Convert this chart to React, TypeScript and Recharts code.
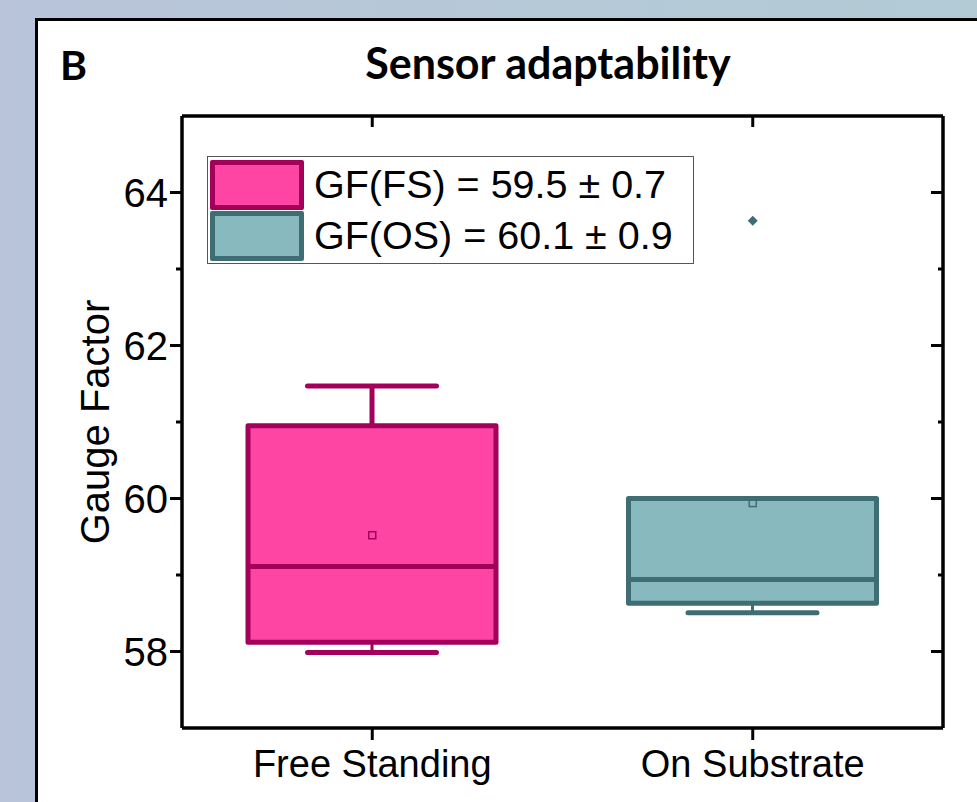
import { Bar, ComposedChart, Legend, Scatter, XAxis, YAxis } from "recharts";

// values
const categories = ["Free Standing", "On Substrate"];
const whiskerLow = [58.0, 58.52];
const q1 = [58.12, 58.63];
const median = [59.11, 58.94];
const q3 = [60.95, 60.0];
const whiskerHigh = [61.47, 60.0];
const means = [59.52, 59.94];
const outliers = [null, 63.63];
const legendLabels = ["GF(FS) = 59.5 ± 0.7", "GF(OS) = 60.1 ± 0.9"];
const majorTicks = [58, 60, 62, 64];
const allTicks = [58, 59, 60, 61, 62, 63, 64];

const fills = ["#ff45a3", "#87b9be"];
const strokes = ["#a3005b", "#3e6e73"];
const FONT = "'Liberation Sans', Arial, sans-serif";
const AXIS = { stroke: "#000", strokeWidth: 3.5 };

const data = categories.map((name, i) => ({
  name,
  range: [whiskerLow[i], whiskerHigh[i]],
  low: whiskerLow[i],
  q1: q1[i],
  median: median[i],
  q3: q3[i],
  high: whiskerHigh[i],
  mean: means[i],
  outlier: outliers[i],
}));

/* box + whiskers, positioned from the bar geometry the y scale gives */
function BoxShape(props: any) {
  const { x, y, width, height, payload, index } = props;
  const top = Math.min(y, y + height);
  const h = Math.abs(height);
  const { low, high } = payload;
  const py = (v: number) => (high === low ? top : top + ((high - v) / (high - low)) * h);
  const cx = x + width / 2;
  const cap = width * 0.26;
  const s = strokes[index];
  return (
    <g>
      <line x1={cx} x2={cx} y1={py(high)} y2={py(payload.q3)} stroke={s} strokeWidth={5} />
      <line x1={cx} x2={cx} y1={py(payload.q1)} y2={py(low)} stroke={s} strokeWidth={3} />
      {high > payload.q3 && (
        <line x1={cx - cap} x2={cx + cap} y1={py(high)} y2={py(high)} stroke={s} strokeWidth={5} strokeLinecap="round" />
      )}
      <line x1={cx - cap} x2={cx + cap} y1={py(low) + 1} y2={py(low) + 1} stroke={s} strokeWidth={5} strokeLinecap="round" />
      <rect
        x={x}
        y={py(payload.q3)}
        width={width}
        height={py(payload.q1) - py(payload.q3)}
        fill={fills[index]}
        stroke={s}
        strokeWidth={5}
        strokeLinejoin="round"
      />
      <line x1={x} x2={x + width} y1={py(payload.median)} y2={py(payload.median)} stroke={s} strokeWidth={5} />
    </g>
  );
}

function MeanShape(props: any) {
  const { cx, cy, index } = props;
  if (!Number.isFinite(cx) || !Number.isFinite(cy)) return <g />;
  return <rect x={cx - 3.5} y={cy - 3.5} width={7} height={7} fill="none" stroke={strokes[index]} strokeWidth={1.5} />;
}

function OutlierShape(props: any) {
  const { cx, cy, payload } = props;
  if (payload?.outlier == null || !Number.isFinite(cy)) return <g />;
  const r = 5;
  return <path d={`M${cx},${cy - r}L${cx + r},${cy}L${cx},${cy + r}L${cx - r},${cy}Z`} fill={strokes[1]} />;
}

function LeftTick({ x, y, payload }: any) {
  const major = majorTicks.includes(payload.value);
  return (
    <g>
      <line x1={x} x2={x - (major ? 12 : 6)} y1={y} y2={y} stroke="#000" strokeWidth={3} />
      {major && (
        <text x={x - 14} y={y} dy="0.36em" textAnchor="end" fontSize={40} fontFamily={FONT} fill="#000">
          {payload.value}
        </text>
      )}
    </g>
  );
}

function RightTick({ x, y, payload }: any) {
  const major = majorTicks.includes(payload.value);
  return <line x1={x} x2={x - (major ? 12 : 5)} y1={y} y2={y} stroke="#000" strokeWidth={3} />;
}

function TopTick({ x, y }: any) {
  return <line x1={x} x2={x} y1={y} y2={y + 11} stroke="#000" strokeWidth={3} />;
}

function BottomTick({ x, y, payload }: any) {
  return (
    <g>
      <line x1={x} x2={x} y1={y} y2={y + 12} stroke="#000" strokeWidth={3} />
      <text x={x} y={y + 49} textAnchor="middle" fontSize={38} fontFamily={FONT} fill="#000">
        {payload.value}
      </text>
    </g>
  );
}

function LegendBox() {
  return (
    <div style={{ border: "1px solid #555", background: "#fff", padding: "2px 20px 2px 2px" }}>
      {legendLabels.map((l, i) => (
        <div key={l} style={{ display: "flex", alignItems: "center", height: 51 }}>
          <div
            style={{
              width: 84,
              height: 40,
              background: fills[i],
              border: `5px solid ${strokes[i]}`,
              borderRadius: 2,
              marginRight: 10,
            }}
          />
          <span style={{ fontSize: 39.5, fontFamily: FONT, color: "#000", whiteSpace: "nowrap" }}>{l}</span>
        </div>
      ))}
    </div>
  );
}

export default function App() {
  return (
    <div
      style={{
        position: "absolute",
        left: 0,
        top: 0,
        width: 977,
        height: 802,
        overflow: "hidden",
        background: "linear-gradient(90deg, #b9c4da 0%, #b6c9d8 50%, #b2cbd5 100%)",
      }}
    >
      <div
        style={{
          position: "absolute",
          left: 35,
          top: 18,
          width: 977,
          height: 802,
          background: "#fff",
          border: "3px solid #000",
        }}
      />
      <div
        style={{
          position: "absolute",
          left: 60,
          top: 40,
          fontFamily: "Lato, 'Noto Sans', sans-serif",
          fontWeight: 700,
          fontSize: 41,
        }}
      >
        B
      </div>
      <div
        style={{
          position: "absolute",
          left: 248,
          width: 600,
          top: 37,
          textAlign: "center",
          fontFamily: "Lato, 'Noto Sans', sans-serif",
          fontWeight: 700,
          fontSize: 43,
        }}
      >
        Sensor adaptability
      </div>
      <div style={{ position: "absolute", left: 0, top: 0 }}>
        <ComposedChart
          width={977}
          height={802}
          data={data}
          margin={{ top: 106, right: 24, bottom: 14, left: 82 }}
          style={{ fontFamily: FONT }}
        >
          <XAxis
            xAxisId="bottom"
            dataKey="name"
            height={60}
            tickSize={0}
            tickMargin={0}
            tickLine={false}
            axisLine={AXIS}
            tick={<BottomTick />}
            interval={0}
          />
          <XAxis
            xAxisId="top"
            orientation="top"
            dataKey="name"
            height={10}
            tickSize={0}
            tickMargin={0}
            tickLine={false}
            axisLine={AXIS}
            tick={<TopTick />}
            interval={0}
          />
          <YAxis
            yAxisId="left"
            width={100}
            domain={[57, 65]}
            ticks={allTicks}
            interval={0}
            allowDataOverflow
            tickSize={0}
            tickMargin={0}
            tickLine={false}
            axisLine={AXIS}
            tick={<LeftTick />}
            label={{
              value: "Gauge Factor",
              angle: -90,
              position: "insideLeft",
              offset: 13,
              style: { textAnchor: "middle", fontSize: 40, fontFamily: FONT, fill: "#000" },
            }}
          />
          <YAxis
            yAxisId="right"
            orientation="right"
            width={10}
            domain={[57, 65]}
            ticks={allTicks}
            interval={0}
            allowDataOverflow
            tickSize={0}
            tickMargin={0}
            tickLine={false}
            axisLine={AXIS}
            tick={<RightTick />}
          />
          <Legend
            layout="vertical"
            align="center"
            verticalAlign="middle"
            wrapperStyle={{ left: 207, top: 156, width: "auto" }}
            content={() => <LegendBox />}
          />
          <Bar
            xAxisId="bottom"
            yAxisId="left"
            dataKey="range"
            barSize={248}
            shape={<BoxShape />}
            isAnimationActive={false}
          />
          <Scatter xAxisId="bottom" yAxisId="left" dataKey="mean" shape={<MeanShape />} isAnimationActive={false} />
          <Scatter xAxisId="bottom" yAxisId="left" dataKey="outlier" shape={<OutlierShape />} isAnimationActive={false} />
        </ComposedChart>
      </div>
    </div>
  );
}
